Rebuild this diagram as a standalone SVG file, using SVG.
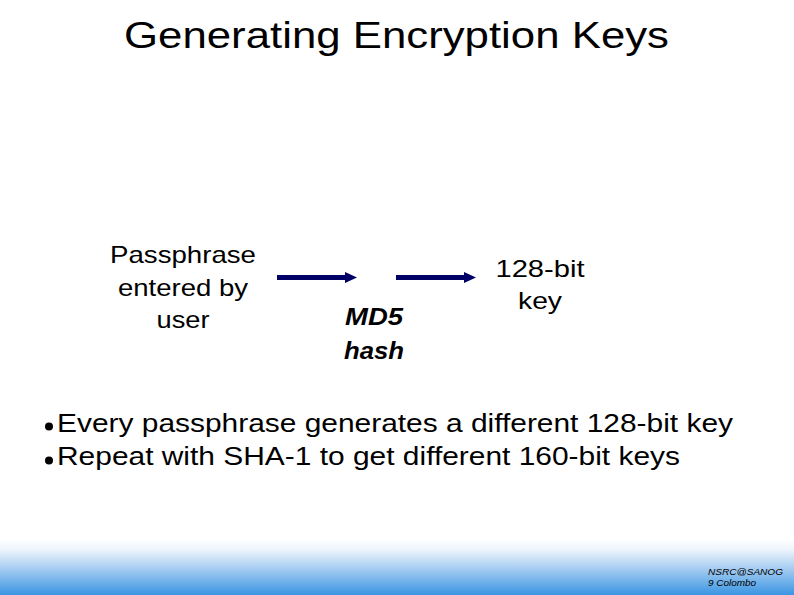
<svg xmlns="http://www.w3.org/2000/svg" width="794" height="595" viewBox="0 0 794 595">
<defs>
<linearGradient id="foot" x1="0" y1="0" x2="0" y2="1">
<stop offset="0" stop-color="#ffffff"/>
<stop offset="0.2" stop-color="#eef5fc"/>
<stop offset="0.55" stop-color="#a3cbf1"/>
<stop offset="1" stop-color="#3a95e2"/>
</linearGradient>
<marker id="ah" markerWidth="12" markerHeight="11" refX="0" refY="5.5" orient="auto" markerUnits="userSpaceOnUse">
<path d="M0,0 L12,5.5 L0,11 z" fill="#000066"/>
</marker>
<style>
text{font-family:"Liberation Sans",Arial,sans-serif;fill:#000}
.lbl{font-size:24px;text-anchor:middle}
.b{font-size:26.5px}
.ft{font-size:9.5px;font-style:italic}
.conn{stroke:#000066;stroke-width:5;fill:none}
</style>
</defs>
<rect width="794" height="595" fill="#fff"/>
<rect x="0" y="538" width="794" height="57" fill="url(#foot)"/>
<text x="124" y="48" font-size="37" textLength="545" lengthAdjust="spacingAndGlyphs">Generating Encryption Keys</text>
<g id="passphrase">
<text class="lbl" x="183" y="263" textLength="146" lengthAdjust="spacingAndGlyphs">Passphrase</text>
<text class="lbl" x="183" y="296" textLength="130" lengthAdjust="spacingAndGlyphs">entered by</text>
<text class="lbl" x="183" y="328" textLength="53" lengthAdjust="spacingAndGlyphs">user</text>
</g>
<g id="md5">
<text class="lbl" x="374" y="325" font-weight="bold" font-style="italic" textLength="58" lengthAdjust="spacingAndGlyphs">MD5</text>
<text class="lbl" x="374" y="359" font-weight="bold" font-style="italic" textLength="60" lengthAdjust="spacingAndGlyphs">hash</text>
</g>
<g id="key">
<text class="lbl" x="540" y="277" textLength="89" lengthAdjust="spacingAndGlyphs">128-bit</text>
<text class="lbl" x="540" y="309" textLength="44" lengthAdjust="spacingAndGlyphs">key</text>
</g>
<g id="connectors">
<line class="conn" x1="277" y1="277.5" x2="345" y2="277.5" marker-end="url(#ah)"/>
<line class="conn" x1="396" y1="277.5" x2="464" y2="277.5" marker-end="url(#ah)"/>
</g>
<g id="bullets">
<circle cx="49" cy="426.5" r="4" fill="#000"/>
<circle cx="49" cy="460.5" r="4" fill="#000"/>
<text class="b" x="57" y="432" textLength="676" lengthAdjust="spacingAndGlyphs">Every passphrase generates a different 128-bit key</text>
<text class="b" x="57" y="465" textLength="623" lengthAdjust="spacingAndGlyphs">Repeat with SHA-1 to get different 160-bit keys</text>
</g>
<g id="footer">
<text class="ft" x="708" y="575" textLength="75" lengthAdjust="spacingAndGlyphs">NSRC@SANOG</text>
<text class="ft" x="708" y="586" textLength="48" lengthAdjust="spacingAndGlyphs">9 Colombo</text>
</g>
</svg>
